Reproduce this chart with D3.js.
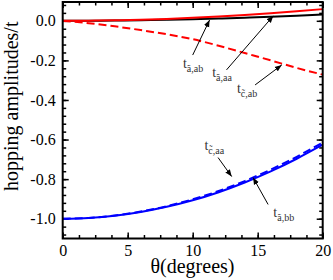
<!DOCTYPE html>
<html>
<head>
<meta charset="utf-8">
<script src="https://cdn.jsdelivr.net/npm/d3@7"></script>
<style>
  body { margin: 0; background: #fff; }
  svg { font-family: "Liberation Serif", "DejaVu Serif", serif; }
</style>
</head>
<body>
<svg id="chart" width="333" height="280"></svg>
<script>
// angle in degrees
const theta = [0, 2, 4, 6, 8, 10, 12, 14, 16, 18, 20];

// hopping amplitudes (units of t)
const tAaa = [0, 0.0003, 0.0013, 0.003, 0.005, 0.008, 0.0115, 0.0157, 0.0205, 0.026, 0.032];
const tAab = [0, 0.0006, 0.0024, 0.0053, 0.0095, 0.0148, 0.0213, 0.029, 0.038, 0.048, 0.059];
const tCab = [0, -0.012, -0.028, -0.047, -0.068, -0.093, -0.126, -0.163, -0.2, -0.238, -0.272];
const tAbb = [-1.0, -0.996, -0.985, -0.966, -0.94, -0.907, -0.866, -0.817, -0.761, -0.697, -0.626];
const tCaa = [-1.0, -0.996, -0.984, -0.964, -0.937, -0.902, -0.86, -0.81, -0.752, -0.687, -0.615];

const xTicks = [0, 5, 10, 15, 20];
const yTicks = [-1.0, -0.8, -0.6, -0.4, -0.2, 0.0];

const series = [
  { values: tAaa, color: "#000", dash: null },
  { values: tAab, color: "#ff0000", dash: null },
  { values: tCab, color: "#ff0000", dash: "8,4" },
  { values: tAbb, color: "#0000ff", dash: null },
  { values: tCaa, color: "#0000ff", dash: "8,4" }
];

// labels: [sym, sub, label theta, label value, arrow from theta, from value, tip theta, tip value]
const notes = [
  ["a\u0303", "ab", 9.25, -0.238, 10.0, -0.173, 11.3, 0.004],
  ["a\u0303", "aa", 11.5, -0.284, 12.6, -0.248, 16.2, 0.025],
  ["c\u0303", "ab", 13.4, -0.364, 14.8, -0.324, 16.85, -0.223],
  ["c\u0303", "aa", 10.9, -0.651, 11.95, -0.691, 13.0, -0.787],
  ["a\u0303", "bb", 16.2, -0.989, 15.8, -0.928, 14.64, -0.792]
];

const svg = d3.select("#chart");
const mLeft = 62.7, mRight = 322.7, mTop = 2, mBottom = 238.5;

const x = d3.scaleLinear().domain([0, 20]).range([mLeft, mRight]);
const y = d3.scaleLinear().domain([-1.1, 0.095]).range([mBottom, mTop]);

const xMinor = d3.range(0, 20.01, 1.25);
const yMinor = d3.range(-1.08, 0.09, 0.04);

function drawAxis(gen, tr) {
  const g = svg.append("g").attr("transform", tr).call(gen);
  g.select(".domain").remove();
  g.selectAll(".tick line").attr("stroke", "#000").attr("stroke-width", 1.5);
  return g;
}

// minor ticks all sides
drawAxis(d3.axisBottom(x).tickValues(xMinor).tickSize(-3.5).tickFormat(""), `translate(0,${mBottom})`);
drawAxis(d3.axisTop(x).tickValues(xMinor).tickSize(-3.5).tickFormat(""), `translate(0,${mTop})`);
drawAxis(d3.axisLeft(y).tickValues(yMinor).tickSize(-3.5).tickFormat(""), `translate(${mLeft},0)`);
drawAxis(d3.axisRight(y).tickValues(yMinor).tickSize(-3.5).tickFormat(""), `translate(${mRight},0)`);

// major ticks
const xb = drawAxis(d3.axisBottom(x).tickValues(xTicks).tickSize(-6).tickPadding(6).tickFormat(d => d), `translate(0,${mBottom})`);
drawAxis(d3.axisTop(x).tickValues(xTicks).tickSize(-6).tickFormat(""), `translate(0,${mTop})`);
const yl = drawAxis(d3.axisLeft(y).tickValues(yTicks).tickSize(-6).tickPadding(7).tickFormat(d => d.toFixed(1)), `translate(${mLeft},0)`);
drawAxis(d3.axisRight(y).tickValues(yTicks).tickSize(-6).tickFormat(""), `translate(${mRight},0)`);

xb.selectAll("text").attr("font-size", 16).attr("fill", "#000").attr("font-family", "Liberation Serif");
yl.selectAll("text").attr("font-size", 16).attr("fill", "#000").attr("font-family", "Liberation Serif");

// curves
const line = d3.line().x((d, i) => x(theta[i])).y(d => y(d)).curve(d3.curveMonotoneX);
series.forEach(s => {
  svg.append("path")
    .datum(s.values)
    .attr("d", line)
    .attr("fill", "none")
    .attr("stroke", s.color)
    .attr("stroke-width", 2)
    .attr("stroke-dasharray", s.dash);
});

// frame
svg.append("rect")
  .attr("x", mLeft).attr("y", mTop)
  .attr("width", mRight - mLeft).attr("height", mBottom - mTop)
  .attr("fill", "none").attr("stroke", "#000").attr("stroke-width", 2);

// arrows
svg.append("defs").append("marker")
  .attr("id", "head")
  .attr("viewBox", "0 0 10 10")
  .attr("refX", 10).attr("refY", 5)
  .attr("markerWidth", 7).attr("markerHeight", 7)
  .attr("markerUnits", "userSpaceOnUse")
  .attr("orient", "auto")
  .append("path").attr("d", "M0,1 L10,5 L0,9 z").attr("fill", "#000");

notes.forEach(n => {
  svg.append("line")
    .attr("x1", x(n[4])).attr("y1", y(n[5]))
    .attr("x2", x(n[6])).attr("y2", y(n[7]))
    .attr("stroke", "#000").attr("stroke-width", 1)
    .attr("marker-end", "url(#head)");
  const t = svg.append("text")
    .attr("x", x(n[2])).attr("y", y(n[3]))
    .attr("font-size", 14).attr("fill", "#333");
  t.append("tspan").text("t");
  t.append("tspan").attr("font-size", 10).attr("dy", 4).text(n[0] + "," + n[1]);
});

// axis titles
svg.append("text")
  .attr("x", 192.5).attr("y", 273)
  .attr("text-anchor", "middle").attr("font-size", 20)
  .text("\u03b8(degrees)");

svg.append("text")
  .attr("transform", `translate(18,${(mTop + mBottom) / 2 - 14}) rotate(-90)`)
  .attr("text-anchor", "middle").attr("font-size", 20)
  .text("hopping amplitudes/t");
</script>
</body>
</html>
